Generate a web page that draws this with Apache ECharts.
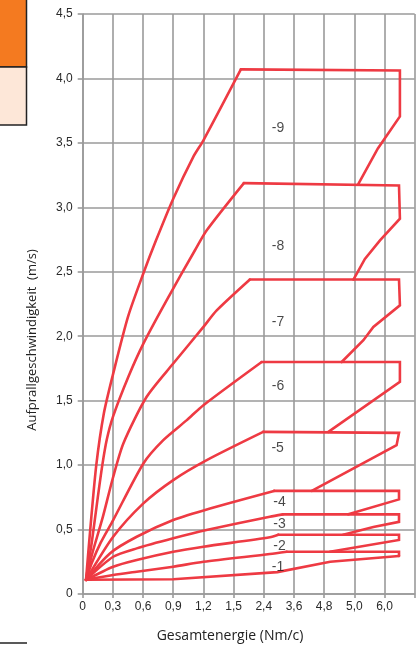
<!DOCTYPE html>
<html>
<head>
<meta charset="utf-8">
<script src="https://cdn.jsdelivr.net/npm/echarts@6/dist/echarts.min.js"></script>
<style>
html,body{margin:0;padding:0;background:#fff;}
#chart{width:419px;height:646px;}
</style>
</head>
<body>
<div id="chart"></div>
<script>
// x axis is a non-linear scale: each grid step carries one of these labels
const xTickLabels = ['0','0,3','0,6','0,9','1,2','1,5','2,4','3,6','4,8','5,0','6,0',''];
const yTickLabels = ['0','0,5','1,0','1,5','2,0','2,5','3,0','3,5','4,0','4,5'];

// curves, in x-step units vs. impact velocity (m/s)
const base1 = [[0.11,0.11],[3.0,0.115],[6.45,0.17],[8.2,0.25],[10.48,0.295]];
const band1 = [[0.11,0.11],[1.01,0.147],[1.79,0.173],[3.0,0.212],[4.0,0.25],[6.2,0.31],[6.76,0.328],[10.48,0.328],[10.48,0.295]];
const band2 = [[0.11,0.11],[1.01,0.212],[1.79,0.264],[3.0,0.328],[4.0,0.367],[6.2,0.44],[6.48,0.46],[10.48,0.46],[10.48,0.419],[8.19,0.328]];
const band3 = [[0.11,0.11],[1.01,0.289],[1.79,0.354],[3.0,0.432],[4.1,0.496],[6.2,0.6],[6.63,0.618],[10.48,0.618],[10.48,0.56],[9.63,0.52],[8.63,0.46]];
const band4 = [[0.11,0.11],[0.9,0.315],[1.79,0.444],[3.0,0.574],[4.22,0.664],[6.34,0.80],[10.48,0.80],[10.48,0.734],[8.8,0.618]];
const band5 = [[0.11,0.11],[1.01,0.444],[2.01,0.703],[3.0,0.884],[4.11,1.039],[5.98,1.258],[10.48,1.25],[10.4,1.155],[7.59,0.80]];
const band6 = [[0.11,0.11],[0.3,0.24],[0.6,0.4],[1.01,0.574],[2.01,1.013],[2.67,1.194],[3.45,1.349],[4.0,1.465],[5.93,1.80],[10.51,1.80],[10.51,1.646],[8.14,1.258]];
const band7 = [[0.11,0.11],[0.3,0.3],[0.67,0.6],[1.0,0.9],[1.35,1.17],[2.12,1.53],[3.0,1.788],[4.0,2.072],[4.44,2.2],[5.54,2.44],[10.48,2.44],[10.51,2.24],[9.63,2.072],[9.3,1.969],[8.58,1.80]];
const band8 = [[0.11,0.11],[0.3,0.4],[0.5,0.75],[0.65,1.0],[0.8,1.2],[1.01,1.38],[1.51,1.684],[2.01,1.943],[2.78,2.279],[3.72,2.667],[4.11,2.822],[5.34,3.188],[10.48,3.17],[10.51,2.912],[9.85,2.744],[9.35,2.6],[8.97,2.44]];
const band9 = [[0.11,0.11],[0.25,0.5],[0.45,1.0],[0.7,1.4],[1.0,1.7],[1.5,2.15],[2.03,2.5],[2.43,2.744],[3.0,3.067],[3.66,3.39],[4.0,3.52],[5.24,4.07],[10.51,4.062],[10.51,3.705],[9.78,3.457],[9.13,3.18]];

const bandLabels = ['-1','-2','-3','-4','-5','-6','-7','-8','-9'];
const bandLabelPoints = [[6.47,0.21],[6.52,0.372],[6.52,0.543],[6.52,0.716],[6.46,1.129],[6.47,1.615],[6.47,2.111],[6.47,2.698],[6.47,3.618]];

const bands = [band1, band2, band3, band4, band5, band6, band7, band8, band9];

const RED = '#ee3a43';
const GRIDC = '#9a9a9a';
const chart = echarts.init(document.getElementById('chart'), null, {renderer:'canvas'});

const lineStyle = {color: RED, width: 2.6, join: 'miter', cap: 'round'};
const series = [{
  type: 'line', data: base1, symbol: 'none', smooth: false,
  lineStyle: lineStyle, z: 3, silent: true
}];
bands.forEach(b => {
  // rising curve: from origin up to the first point of maximum height (the corner)
  let maxY = -1, corner = 0;
  b.forEach((p, i) => { if (p[1] > maxY) { maxY = p[1]; corner = i; } });
  series.push({
    type: 'line', data: b.slice(0, corner + 1), symbol: 'none',
    smooth: 0.25,
    lineStyle: lineStyle, z: 3, silent: true
  });
  series.push({
    type: 'line', data: b.slice(corner), symbol: 'none', smooth: false,
    lineStyle: lineStyle, z: 3, silent: true
  });
});
series.push({
  type: 'scatter',
  symbolSize: 1,
  itemStyle: {color: 'rgba(0,0,0,0)'},
  data: bandLabelPoints.map((p, i) => ({value: p, name: bandLabels[i]})),
  label: {
    show: true, position: 'inside', formatter: '{b}',
    fontFamily: 'Liberation Sans', fontSize: 14, color: '#1a1a1a'
  },
  z: 4,
  silent: true
});

chart.setOption({
  animation: false,
  backgroundColor: '#fff',
  grid: {left: 82.7, right: 4.3, top: 14, bottom: 52},
  xAxis: {
    type: 'value', min: 0, max: 11, interval: 1,
    axisLine: {show: true, lineStyle: {color: GRIDC, width: 1.6}},
    axisTick: {show: true, length: 4, lineStyle: {color: GRIDC, width: 1.6}},
    splitLine: {show: true, lineStyle: {color: GRIDC, width: 1.6}},
    axisLabel: {
      margin: 7, fontFamily: 'Liberation Sans', fontSize: 12, color: '#2a2a2a',
      formatter: v => xTickLabels[Math.round(v)] || ''
    }
  },
  yAxis: {
    type: 'value', min: 0, max: 4.5, interval: 0.5,
    axisLine: {show: true, lineStyle: {color: GRIDC, width: 1.6}},
    axisTick: {show: true, length: 5, lineStyle: {color: GRIDC, width: 1.6}},
    splitLine: {show: true, lineStyle: {color: GRIDC, width: 1.6}},
    axisLabel: {
      margin: 10, fontFamily: 'Liberation Sans', fontSize: 12, color: '#2a2a2a',
      formatter: v => yTickLabels[Math.round(v / 0.5)]
    }
  },
  graphic: [
    {type: 'rect', shape: {x: -2, y: -2, width: 28.5, height: 69}, style: {fill: '#f47a20', stroke: '#222', lineWidth: 1.5}},
    {type: 'rect', shape: {x: -2, y: 67, width: 28.5, height: 58}, style: {fill: '#fde7d8', stroke: '#222', lineWidth: 1.5}},
    {type: 'line', shape: {x1: 0, y1: 643, x2: 27, y2: 643}, style: {stroke: '#222', lineWidth: 1.5}},
    {type: 'text', x: 230, y: 636, style: {text: 'Gesamtenergie (Nm/c)', fontFamily: 'Open Sans', fontSize: 14, fill: '#222', align: 'center', verticalAlign: 'middle'}},
    {type: 'text', x: 32, y: 340, rotation: Math.PI / 2, style: {text: 'Aufprallgeschwindigkeit  (m/s)', fontFamily: 'Open Sans', fontSize: 13, fill: '#222', align: 'center', verticalAlign: 'middle'}}
  ],
  series: series
});
</script>
</body>
</html>
